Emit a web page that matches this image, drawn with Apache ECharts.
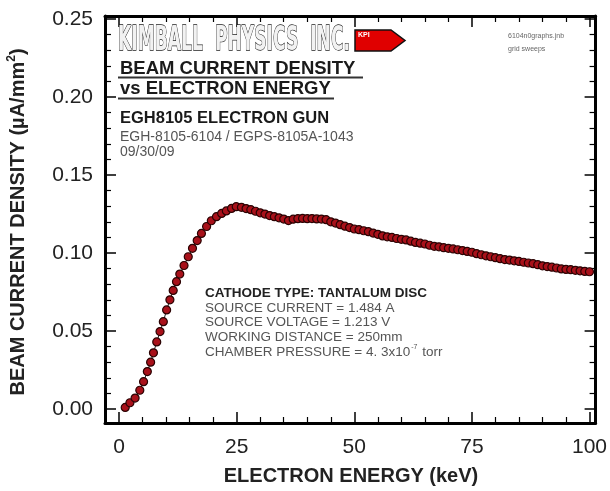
<!DOCTYPE html>
<html>
<head>
<meta charset="utf-8">
<script src="https://cdn.jsdelivr.net/npm/echarts@6/dist/echarts.min.js"></script>
<style>
html,body{margin:0;padding:0;background:#fff;}
#chart{width:610px;height:491px;}
</style>
</head>
<body>
<div id="chart"></div>
<script>
// ---- data ----
const energyKeV = [
  1.3,2.3,3.4,4.4,5.2,6.0,6.7,7.3,8.0,8.7,9.4,10.1,10.8,11.5,12.2,12.9,13.8,14.7,15.6,16.6,17.5,18.6,19.6,20.7,21.8,22.8,23.9,24.9,
  26,27,28,29,30,31,32,33,34,35,36,37,38,39,40,41,42,43,44,45,46,47,48,49,50,
  51,52,53,54,55,56,57,58,59,60,61,62,63,64,65,66,67,68,69,70,71,72,73,74,75,
  76,77,78,79,80,81,82,83,84,85,86,87,88,89,90,91,92,93,94,95,96,97,98,99,100
];
const currentDensity = [
  0.001,0.004,0.007,0.012,0.0175,0.024,0.030,0.036,0.043,0.0496,0.056,0.0635,0.070,0.076,0.0816,0.0865,0.092,0.0976,0.103,0.108,0.1126,0.117,0.1207,0.1233,0.1254,0.127,0.1286,0.1297,
  0.1293,0.1285,0.1278,0.1268,0.1258,0.1250,0.1240,0.1233,0.1226,0.1218,0.1208,0.1217,0.1220,0.1222,0.1220,0.1221,0.1219,0.1218,0.1214,0.1200,0.1192,0.1182,0.1172,0.1163,0.1154,
  0.1150,0.1143,0.1137,0.1128,0.1120,0.1110,0.1104,0.1100,0.1093,0.1088,0.1084,0.1076,0.1068,0.1063,0.1058,0.1050,0.1043,0.1040,0.1034,0.1030,0.1026,0.1021,0.1016,0.1010,0.1005,
  0.0996,0.0989,0.0982,0.0976,0.0970,0.0964,0.0958,0.0955,0.0950,0.0946,0.0941,0.0936,0.0932,0.0925,0.0918,0.0913,0.0909,0.0904,0.0898,0.0895,0.0893,0.0889,0.0886,0.0882,0.0880
];
const xMajorTicks = [0,25,50,75,100];
const xMinorTicks = [5,10,15,20,30,35,40,45,55,60,65,70,80,85,90,95];
const yMajorTicks = [0,0.05,0.10,0.15,0.20,0.25];
const yMinorTicks = [0.01,0.02,0.03,0.04,0.06,0.07,0.08,0.09,0.11,0.12,0.13,0.14,0.16,0.17,0.18,0.19,0.21,0.22,0.23,0.24];

const headerLines = ['BEAM CURRENT DENSITY','vs ELECTRON ENERGY'];
const gunLines = ['EGH8105 ELECTRON GUN','EGH-8105-6104 / EGPS-8105A-1043','09/30/09'];
const cathodeLines = ['CATHODE TYPE: TANTALUM DISC','SOURCE CURRENT = 1.484 A','SOURCE VOLTAGE = 1.213 V','WORKING DISTANCE = 250mm'];

const FONT = '"Liberation Sans", Arial, Helvetica, sans-serif';

function measure(text, font){
  const c = document.createElement('canvas').getContext('2d');
  c.font = font; return c.measureText(text).width;
}

const chart = echarts.init(document.getElementById('chart'), null, {renderer:'canvas'});

const xMin = -3, xMax = 101.3, yMin = -0.009, yMax = 0.252;
const frameLine = {show:true, onZero:false, lineStyle:{color:'#000', width:3}};
const noLine = {show:false, onZero:false};
function axisBase(extra){
  return Object.assign({type:'value', splitLine:{show:false}}, extra);
}
const xAxes = [
  axisBase({min:xMin,max:xMax,position:'bottom',axisLine:frameLine,
    axisTick:{inside:true,length:11,customValues:xMajorTicks,lineStyle:{color:'#000',width:1.5}},
    axisLabel:{customValues:xMajorTicks,fontSize:21,color:'#222',fontFamily:FONT,margin:14}}),
  axisBase({min:xMin,max:xMax,position:'bottom',axisLine:noLine,
    axisTick:{inside:true,length:6,customValues:xMinorTicks,lineStyle:{color:'#000',width:1.2}},
    axisLabel:{show:false}}),
  axisBase({min:xMin,max:xMax,position:'top',axisLine:frameLine,
    axisTick:{inside:true,length:11,customValues:xMajorTicks,lineStyle:{color:'#000',width:1.5}},
    axisLabel:{show:false}}),
  axisBase({min:xMin,max:xMax,position:'top',axisLine:noLine,
    axisTick:{inside:true,length:6,customValues:xMinorTicks,lineStyle:{color:'#000',width:1.2}},
    axisLabel:{show:false}})
];
const yAxes = [
  axisBase({min:yMin,max:yMax,position:'left',axisLine:frameLine,
    axisTick:{inside:true,length:11,customValues:yMajorTicks,lineStyle:{color:'#000',width:1.5}},
    axisLabel:{customValues:yMajorTicks,fontSize:21,color:'#222',fontFamily:FONT,margin:12,
      formatter:v=>v.toFixed(2)}}),
  axisBase({min:yMin,max:yMax,position:'left',axisLine:noLine,
    axisTick:{inside:true,length:6,customValues:yMinorTicks,lineStyle:{color:'#000',width:1.2}},
    axisLabel:{show:false}}),
  axisBase({min:yMin,max:yMax,position:'right',axisLine:frameLine,
    axisTick:{inside:true,length:11,customValues:yMajorTicks,lineStyle:{color:'#000',width:1.5}},
    axisLabel:{show:false}}),
  axisBase({min:yMin,max:yMax,position:'right',axisLine:noLine,
    axisTick:{inside:true,length:6,customValues:yMinorTicks,lineStyle:{color:'#000',width:1.2}},
    axisLabel:{show:false}})
];

const kimballText = 'KIMBALL  PHYSICS  INC.';
const kimballFont = 'bold 34px "DejaVu Sans Condensed", "DejaVu Sans", sans-serif';
const kimballScale = 232 / measure(kimballText, kimballFont);

const graphics = [];
graphics.push({type:'text', x:118, y:41, scaleX:kimballScale, z:10,
  style:{text:kimballText, font:kimballFont, fill:'#f2f2f2', stroke:'#1a1a1a', lineWidth:1.3, verticalAlign:'middle', align:'left'}});
graphics.push({type:'polygon', z:10, shape:{points:[[355,30],[391,30],[405,40.5],[391,51],[355,51]]},
  style:{fill:'#e00000', stroke:'#111', lineWidth:1.5}});
graphics.push({type:'text', x:358, y:35, z:11, style:{text:'KPI', font:'bold 7px '+FONT, fill:'#fff', verticalAlign:'middle'}});
const headerY = [69, 89];
const headerUnder = [[118,363,77.5],[118,334,98.5]];
headerLines.forEach((t,i)=>{
  graphics.push({type:'text', x:120, y:headerY[i], z:10, style:{text:t, font:'bold 18.5px '+FONT, fill:'#1a1a1a', verticalAlign:'middle'}});
  const u = headerUnder[i];
  graphics.push({type:'line', z:10, shape:{x1:u[0],y1:u[2],x2:u[1],y2:u[2]}, style:{stroke:'#333', lineWidth:2}});
});
const gunY = [118.5, 137, 152.5];
gunLines.forEach((t,i)=>{
  graphics.push({type:'text', x:120, y:gunY[i], z:10, style:{text:t,
    font:(i===0?'bold 16.5px ':'14px ')+FONT, fill:(i===0?'#1a1a1a':'#555'), verticalAlign:'middle'}});
});
graphics.push({type:'text', x:508, y:36, z:10, style:{text:'6104n0graphs.jnb', font:'7px '+FONT, fill:'#666', verticalAlign:'middle'}});
graphics.push({type:'text', x:508, y:49, z:10, style:{text:'grid sweeps', font:'7px '+FONT, fill:'#666', verticalAlign:'middle'}});
const cathY = [293, 308, 322, 337];
cathodeLines.forEach((t,i)=>{
  graphics.push({type:'text', x:205, y:cathY[i], z:10, style:{text:t,
    font:(i===0?'bold ':'')+'13.5px '+FONT, fill:(i===0?'#222':'#555'), verticalAlign:'middle'}});
});
graphics.push({type:'text', x:205, y:352, z:10, style:{
  text:'{n|CHAMBER PRESSURE = 4. 3x10}{s|-7}{n| torr}',
  rich:{n:{font:'13.5px '+FONT, fill:'#555', lineHeight:16},
        s:{font:'7px '+FONT, fill:'#555', verticalAlign:'top', padding:[0,1,0,1]}},
  verticalAlign:'middle'}});
graphics.push({type:'text', x:18, y:222, rotation:Math.PI/2, z:10, style:{
  text:'{b|BEAM CURRENT DENSITY (µA/mm}{s|2}{b|)}',
  rich:{b:{font:'bold 20px '+FONT, fill:'#222', lineHeight:24},
        s:{font:'bold 12px '+FONT, fill:'#222', verticalAlign:'top'}},
  align:'center', verticalAlign:'middle'}});
graphics.push({type:'text', x:351, y:476, z:10, style:{text:'ELECTRON ENERGY (keV)', font:'bold 20px '+FONT, fill:'#222', align:'center', verticalAlign:'middle'}});

const option = {
  animation:false,
  backgroundColor:'#fff',
  grid:{left:105, right:13, top:16, bottom:68, containLabel:false},
  xAxis:xAxes,
  yAxis:yAxes,
  series:[{
    type:'line', xAxisIndex:0, yAxisIndex:0,
    data: energyKeV.map((e,i)=>[e, currentDensity[i]]),
    symbol:'circle', symbolSize:8, showSymbol:true,
    itemStyle:{color:'#a8111a', borderColor:'#2a0303', borderWidth:1.2},
    lineStyle:{color:'#222', width:1},
    z:5
  }],
  graphic:graphics
};
chart.setOption(option);
</script>
</body>
</html>
